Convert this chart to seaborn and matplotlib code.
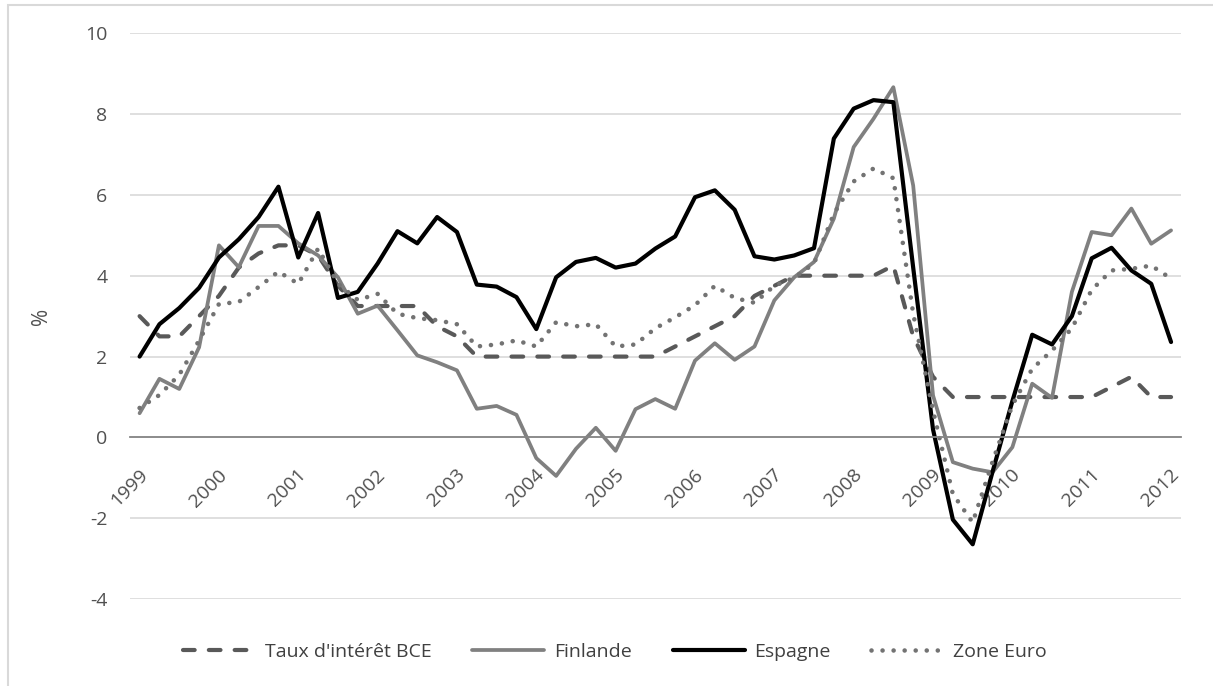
import numpy as np
import matplotlib.pyplot as plt
import matplotlib.transforms as mtransforms
from matplotlib.patches import Rectangle
import pandas as pd
import seaborn as sns

# quarterly series, 1999Q1 .. 2012Q1
quarters = list(range(53))
years = [str(y) for y in range(1999, 2013)]

bce = [3.0, 2.5, 2.5, 3.0, 3.5, 4.2, 4.55, 4.75, 4.75, 4.5, 3.75, 3.25, 3.25, 3.25,
       3.25, 2.75, 2.5, 2.0, 2.0, 2.0, 2.0, 2.0, 2.0, 2.0, 2.0, 2.0, 2.0, 2.25,
       2.5, 2.75, 3.0, 3.5, 3.75, 4.0, 4.0, 4.0, 4.0, 4.0, 4.25, 2.5, 1.5, 1.0,
       1.0, 1.0, 1.0, 1.0, 1.0, 1.0, 1.0, 1.25, 1.5, 1.0, 1.0]
finlande = [0.6, 1.45, 1.2, 2.23, 4.75, 4.21, 5.23, 5.23, 4.8, 4.5, 3.96, 3.06, 3.26, 2.65,
            2.03, 1.86, 1.66, 0.71, 0.78, 0.56, -0.51, -0.95, -0.28, 0.24, -0.33, 0.7, 0.95, 0.71,
            1.9, 2.33, 1.92, 2.25, 3.39, 3.96, 4.34, 5.41, 7.18, 7.88, 8.66, 6.23, 1.04, -0.61,
            -0.77, -0.86, -0.24, 1.33, 0.98, 3.6, 5.08, 5.0, 5.66, 4.79, 5.12]
espagne = [2.0, 2.8, 3.2, 3.7, 4.45, 4.9, 5.45, 6.2, 4.45, 5.55, 3.45, 3.6, 4.3, 5.1,
           4.8, 5.45, 5.08, 3.78, 3.73, 3.47, 2.68, 3.96, 4.34, 4.44, 4.2, 4.3, 4.67, 4.97,
           5.94, 6.11, 5.63, 4.48, 4.4, 4.5, 4.68, 7.39, 8.13, 8.34, 8.29, 4.2, 0.2, -2.03,
           -2.64, -0.85, 0.9, 2.54, 2.3, 3.0, 4.43, 4.69, 4.13, 3.8, 2.36]
zone_euro = [0.73, 1.05, 1.55, 2.4, 3.3, 3.35, 3.72, 4.1, 3.8, 4.67, 3.8, 3.4, 3.55, 3.06,
             2.95, 2.9, 2.8, 2.25, 2.3, 2.4, 2.25, 2.85, 2.75, 2.8, 2.25, 2.3, 2.7, 2.97,
             3.27, 3.75, 3.45, 3.33, 3.75, 3.95, 4.3, 5.53, 6.33, 6.65, 6.41, 3.06, 0.67, -1.4,
             -2.1, -0.6, 0.8, 1.7, 2.15, 2.7, 3.65, 4.13, 4.17, 4.25, 3.93]

df = pd.DataFrame({'q': quarters, 'bce': bce, 'fin': finlande, 'esp': espagne, 'ze': zone_euro})

sns.set_style('white')
plt.rcParams['font.family'] = ['Open Sans', 'DejaVu Sans']
plt.rcParams['axes.unicode_minus'] = False

fig = plt.figure(figsize=(12.13, 6.86), dpi=100)
ax = fig.add_axes([0.1069, 0.1264, 0.8667, 0.8255])

sns.lineplot(data=df, x='q', y='bce', ax=ax, color='#595959', lw=3.0,
             linestyle=(0, (2.8, 3.4)), dash_capstyle='round', label="Taux d'intérêt BCE")
sns.lineplot(data=df, x='q', y='fin', ax=ax, color='#808080', lw=2.7, label='Finlande')
sns.lineplot(data=df, x='q', y='esp', ax=ax, color='black', lw=3.0, label='Espagne')
sns.lineplot(data=df, x='q', y='ze', ax=ax, color='#737373', lw=3.3,
             linestyle=(0, (0.01, 2.4)), dash_capstyle='round', label='Zone Euro')

ax.set_xlim(-0.5, 52.5)
ax.set_ylim(-4, 10)
ax.set_yticks(range(-4, 11, 2))
ax.yaxis.grid(True, color='#d9d9d9', lw=1.2)
ax.set_axisbelow(True)
for s in ['top', 'right', 'left']:
    ax.spines[s].set_visible(False)
ax.spines['bottom'].set_position(('data', 0))
ax.spines['bottom'].set_color('#868686')
ax.spines['bottom'].set_linewidth(1.3)

ax.set_xticks([-0.5 + 4 * k for k in range(len(years))])
ax.set_xticklabels(years)
ax.tick_params(axis='x', direction='out', length=5, width=1.2, color='#868686',
               pad=20, labelsize=14, labelcolor='#505050')
ax.tick_params(axis='y', length=0, pad=16, labelsize=14, labelcolor='#505050')
shift = mtransforms.ScaledTranslation(0.15, 0, fig.dpi_scale_trans)
for lab in ax.get_xticklabels():
    lab.set_rotation(45)
    lab.set_ha('right')
    lab.set_va('center')
    lab.set_rotation_mode('anchor')
    lab.set_transform(lab.get_transform() + shift)

ax.set_xlabel('')
ax.set_ylabel('%', fontsize=15, color='#505050')
ax.yaxis.set_label_coords(-0.074, 0.5)

ax.legend(loc='center', bbox_to_anchor=(0.507, 0.05), bbox_transform=fig.transFigure,
          ncol=4, frameon=False, fontsize=14, handlelength=3.7, handletextpad=0.5,
          columnspacing=2.1, labelcolor='#404040')

fig.patches.append(Rectangle((8 / 1213, -0.05), 1.1, 1.05 - 5 / 686, transform=fig.transFigure,
                             fill=False, edgecolor='#d9d9d9', lw=1.5, clip_on=False))

fig.savefig('out.png', dpi=100)
